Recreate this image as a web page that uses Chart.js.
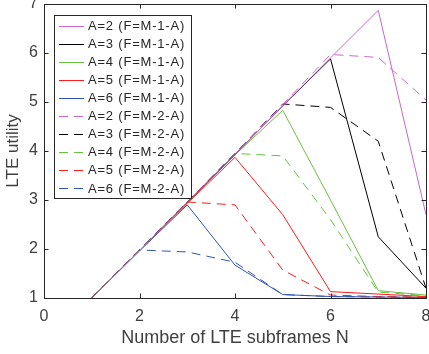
<!DOCTYPE html>
<html>
<head>
<meta charset="utf-8">
<script src="https://cdn.jsdelivr.net/npm/chart.js@4.4.1/dist/chart.umd.min.js"></script>
<style>
  html, body { margin: 0; padding: 0; background: #fff; }
  #wrap { width: 429px; height: 354px; position: relative; }
</style>
</head>
<body>
<div id="wrap"><canvas id="chart"></canvas></div>
<script>
// --- data ---
const subframes = [1, 2, 3, 4, 5, 6, 7, 8];

const a2_m1 = [1, 1.97, 2.95, 3.93, 4.92, 5.90, 6.87, 2.70];
const a3_m1 = [1, 1.97, 2.95, 3.93, 4.92, 5.88, 2.25, 1.20];
const a4_m1 = [1, 1.97, 2.94, 3.92, 4.83, 3.00, 1.15, 1.06];
const a5_m1 = [1, 1.97, 2.93, 3.87, 2.70, 1.13, 1.08, 1.03];
const a6_m1 = [1, 1.96, 2.90, 1.67, 1.07, 1.03, 1.02, 1.01];

const a2_m2 = [1, 1.98, 2.96, 3.95, 4.95, 5.97, 5.91, 5.04];
const a3_m2 = [1, 1.98, 2.96, 3.95, 4.96, 4.89, 4.20, 1.20];
const a4_m2 = [1, 1.98, 2.96, 3.95, 3.90, 2.60, 1.12, 1.05];
const a5_m2 = [1, 1.98, 2.96, 2.90, 1.57, 1.06, 1.03, 1.02];
const a6_m2 = [1, 1.98, 1.94, 1.73, 1.07, 1.03, 1.02, 1.01];

const xTicks = [0, 2, 4, 6, 8];
const yTicks = [1, 2, 3, 4, 5, 6, 7];

const seriesLabels = [
  'A=2 (F=M-1-A)', 'A=3 (F=M-1-A)', 'A=4 (F=M-1-A)', 'A=5 (F=M-1-A)', 'A=6 (F=M-1-A)',
  'A=2 (F=M-2-A)', 'A=3 (F=M-2-A)', 'A=4 (F=M-2-A)', 'A=5 (F=M-2-A)', 'A=6 (F=M-2-A)'
];
const seriesValues = [a2_m1, a3_m1, a4_m1, a5_m1, a6_m1, a2_m2, a3_m2, a4_m2, a5_m2, a6_m2];
const colors = ['#cc66cc', '#000000', '#66c23f', '#ff1a1a', '#2f55b4'];
const dashPattern = [9, 6];

const axisColor = '#262626';
const textColor = '#404040';

const datasets = seriesValues.map((vals, i) => ({
  label: seriesLabels[i],
  data: vals.map((v, j) => ({ x: subframes[j], y: v })),
  borderColor: colors[i % 5],
  borderWidth: 1,
  borderDash: i >= 5 ? dashPattern : [],
  pointRadius: 0,
  fill: false,
  tension: 0
}));

// box, inward ticks and the legend inside the plot (MATLAB look)
const matlabAxes = {
  id: 'matlabAxes',
  afterDatasetsDraw(chart) {
    const { ctx, chartArea: a, scales: { x, y } } = chart;
    ctx.save();
    ctx.strokeStyle = axisColor;
    ctx.lineWidth = 1;
    ctx.setLineDash([]);
    ctx.strokeRect(Math.round(a.left) + 0.5, Math.round(a.top) + 0.5,
      Math.round(a.right - a.left), Math.round(a.bottom - a.top));
    const tl = 4.5;
    ctx.beginPath();
    xTicks.forEach(t => {
      const px = Math.round(x.getPixelForValue(t)) + 0.5;
      ctx.moveTo(px, a.bottom); ctx.lineTo(px, a.bottom - tl);
      ctx.moveTo(px, a.top); ctx.lineTo(px, a.top + tl);
    });
    yTicks.forEach(t => {
      const py = Math.round(y.getPixelForValue(t)) + 0.5;
      ctx.moveTo(a.left, py); ctx.lineTo(a.left + tl, py);
      ctx.moveTo(a.right, py); ctx.lineTo(a.right - tl, py);
    });
    ctx.stroke();

    // legend
    const lx = 54.5, ly = 15.5, lw = 137, lh = 183;
    ctx.fillStyle = '#fff';
    ctx.fillRect(lx, ly, lw, lh);
    ctx.strokeStyle = axisColor;
    ctx.strokeRect(lx, ly, lw, lh);
    ctx.font = '13px "Liberation Sans", Arial, sans-serif';
    ctx.letterSpacing = '0.8px';
    ctx.textBaseline = 'middle';
    ctx.textAlign = 'left';
    chart.data.datasets.forEach((ds, i) => {
      const cy = 25.5 + i * 18.05;
      ctx.strokeStyle = ds.borderColor;
      ctx.setLineDash(ds.borderDash);
      ctx.beginPath();
      ctx.moveTo(59, Math.round(cy) + 0.5);
      ctx.lineTo(84, Math.round(cy) + 0.5);
      ctx.stroke();
      ctx.fillStyle = '#262626';
      ctx.fillText(ds.label, 88, cy + 1);
    });
    ctx.restore();
  }
};

new Chart(document.getElementById('chart'), {
  type: 'line',
  data: { datasets: datasets },
  options: {
    responsive: true,
    maintainAspectRatio: false,
    animation: false,
    layout: { padding: { top: 4, right: 3, left: 0, bottom: 0 } },
    plugins: { legend: { display: false }, tooltip: { enabled: false } },
    scales: {
      x: {
        type: 'linear', min: 0, max: 8,
        afterFit: s => { s.height = 56; s.paddingLeft = 0; s.paddingRight = 0; },
        afterBuildTicks: s => { s.ticks = xTicks.map(v => ({ value: v })); },
        grid: { display: false, drawTicks: false },
        border: { display: false },
        ticks: { color: textColor, font: { family: '"Liberation Sans", Arial', size: 16 }, padding: 9, maxRotation: 0 },
        title: { display: true, text: 'Number of LTE subframes N', color: textColor,
                 font: { family: '"Liberation Sans", Arial', size: 18 }, padding: { bottom: 5 } }
      },
      y: {
        type: 'linear', min: 1, max: 7,
        afterFit: s => { s.width = 44; s.paddingTop = 0; s.paddingBottom = 0; },
        afterBuildTicks: s => { s.ticks = yTicks.map(v => ({ value: v })); },
        grid: { display: false, drawTicks: false },
        border: { display: false },
        ticks: { color: textColor, font: { family: '"Liberation Sans", Arial', size: 16 }, padding: 6 },
        title: { display: true, text: 'LTE utility', color: textColor,
                 font: { family: '"Liberation Sans", Arial', size: 17 }, padding: { top: 3 } }
      }
    }
  },
  plugins: [matlabAxes]
});
</script>
</body>
</html>
